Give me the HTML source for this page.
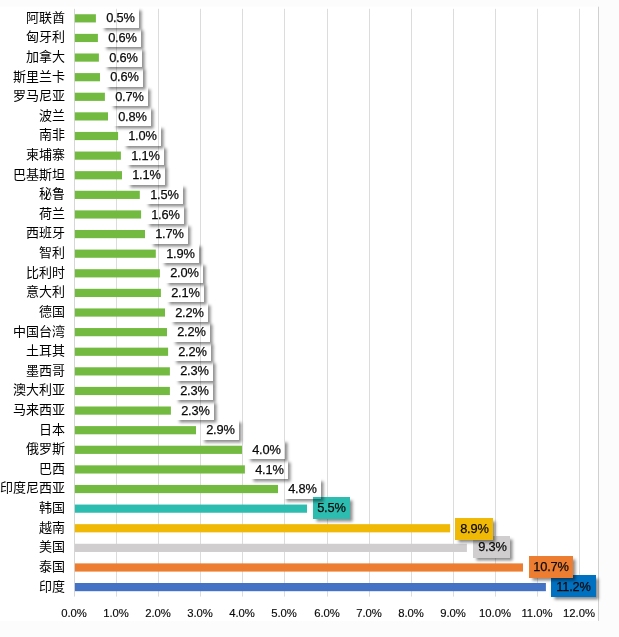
<!DOCTYPE html>
<html lang="zh"><head><meta charset="utf-8"><title>chart</title>
<style>
html,body{margin:0;padding:0;background:#FCFCFC;}
body{width:619px;height:637px;position:relative;overflow:hidden;font-family:"Liberation Sans","Noto Sans CJK SC",sans-serif;}
#c{position:absolute;left:0;top:0;width:619px;height:637px;overflow:hidden;}
svg{position:absolute;left:0;top:0;}
.cat{position:absolute;left:0;width:65px;text-align:right;font-size:13px;line-height:16px;height:16px;color:#000;white-space:nowrap;}
.lab{position:absolute;height:20.4px;line-height:21.4px;text-indent:0.4px;width:37.5px;text-align:center;font-size:13.5px;color:#0a0a0a;-webkit-text-stroke:0.25px #0a0a0a;box-shadow:2.5px 2.5px 3px rgba(0,0,0,.46);white-space:nowrap;}
.lab.w2{width:44.6px;}

.lab span{display:inline-block;transform:scaleX(.95);letter-spacing:-0.2px;}
.ax{position:absolute;top:605.5px;width:40px;text-align:center;font-size:11.3px;line-height:14px;color:#0a0a0a;-webkit-text-stroke:0.15px #0a0a0a;}
</style></head><body><div id="c">
<svg width="619" height="637" viewBox="0 0 619 637">
<rect x="0" y="6.6" width="598.9" height="614.3" fill="#fff"/>
<line x1="74.5" y1="8.8" x2="74.5" y2="596.6" stroke="#D6D6D6" stroke-width="1"/>
<line x1="116.5" y1="8.8" x2="116.5" y2="596.6" stroke="#DCDCDC" stroke-width="1"/>
<line x1="158.5" y1="8.8" x2="158.5" y2="596.6" stroke="#DCDCDC" stroke-width="1"/>
<line x1="200.5" y1="8.8" x2="200.5" y2="596.6" stroke="#DCDCDC" stroke-width="1"/>
<line x1="242.5" y1="8.8" x2="242.5" y2="596.6" stroke="#DCDCDC" stroke-width="1"/>
<line x1="284.5" y1="8.8" x2="284.5" y2="596.6" stroke="#DCDCDC" stroke-width="1"/>
<line x1="327.5" y1="8.8" x2="327.5" y2="596.6" stroke="#DCDCDC" stroke-width="1"/>
<line x1="369.5" y1="8.8" x2="369.5" y2="596.6" stroke="#DCDCDC" stroke-width="1"/>
<line x1="411.5" y1="8.8" x2="411.5" y2="596.6" stroke="#DCDCDC" stroke-width="1"/>
<line x1="453.5" y1="8.8" x2="453.5" y2="596.6" stroke="#DCDCDC" stroke-width="1"/>
<line x1="495.5" y1="8.8" x2="495.5" y2="596.6" stroke="#DCDCDC" stroke-width="1"/>
<line x1="537.5" y1="8.8" x2="537.5" y2="596.6" stroke="#DCDCDC" stroke-width="1"/>
<line x1="579.5" y1="8.8" x2="579.5" y2="596.6" stroke="#DCDCDC" stroke-width="1"/>
<line x1="598.5" y1="6.7" x2="598.5" y2="621" stroke="#D0D0D0" stroke-width="1"/>
<rect x="74.9" y="14.25" width="21.0" height="8.2" fill="#73BB40"/>
<rect x="74.9" y="33.86" width="23.0" height="8.2" fill="#73BB40"/>
<rect x="74.9" y="53.47" width="24.0" height="8.2" fill="#73BB40"/>
<rect x="74.9" y="73.09" width="25.1" height="8.2" fill="#73BB40"/>
<rect x="74.9" y="92.70" width="30.0" height="8.2" fill="#73BB40"/>
<rect x="74.9" y="112.31" width="33.1" height="8.2" fill="#73BB40"/>
<rect x="74.9" y="131.92" width="43.2" height="8.2" fill="#73BB40"/>
<rect x="74.9" y="151.53" width="46.0" height="8.2" fill="#73BB40"/>
<rect x="74.9" y="171.15" width="47.1" height="8.2" fill="#73BB40"/>
<rect x="74.9" y="190.76" width="64.9" height="8.2" fill="#73BB40"/>
<rect x="74.9" y="210.37" width="66.2" height="8.2" fill="#73BB40"/>
<rect x="74.9" y="229.98" width="70.1" height="8.2" fill="#73BB40"/>
<rect x="74.9" y="249.59" width="80.9" height="8.2" fill="#73BB40"/>
<rect x="74.9" y="269.21" width="85.0" height="8.2" fill="#73BB40"/>
<rect x="74.9" y="288.82" width="86.0" height="8.2" fill="#73BB40"/>
<rect x="74.9" y="308.43" width="90.1" height="8.2" fill="#73BB40"/>
<rect x="74.9" y="328.04" width="92.1" height="8.2" fill="#73BB40"/>
<rect x="74.9" y="347.65" width="93.2" height="8.2" fill="#73BB40"/>
<rect x="74.9" y="367.27" width="95.0" height="8.2" fill="#73BB40"/>
<rect x="74.9" y="386.88" width="95.0" height="8.2" fill="#73BB40"/>
<rect x="74.9" y="406.49" width="96.0" height="8.2" fill="#73BB40"/>
<rect x="74.9" y="426.10" width="121.1" height="8.2" fill="#73BB40"/>
<rect x="74.9" y="445.71" width="167.1" height="8.2" fill="#73BB40"/>
<rect x="74.9" y="465.33" width="170.0" height="8.2" fill="#73BB40"/>
<rect x="74.9" y="484.94" width="203.1" height="8.2" fill="#73BB40"/>
<rect x="74.9" y="504.55" width="232.1" height="8.2" fill="#2DBDB0"/>
<rect x="74.9" y="524.16" width="375.2" height="8.2" fill="#F0B905"/>
<rect x="74.9" y="543.77" width="392.0" height="8.2" fill="#D0CECE"/>
<rect x="74.9" y="563.39" width="448.1" height="8.2" fill="#ED7D31"/>
<rect x="74.9" y="583.00" width="471.0" height="8.2" fill="#4472C4"/>
</svg>
<div class="cat" style="top:9.75px">阿联酋</div>
<div class="lab" style="left:101.1px;top:7.45px;z-index:100"><span>0.5%</span></div>
<div class="cat" style="top:29.36px">匈牙利</div>
<div class="lab" style="left:103.1px;top:27.06px;z-index:99"><span>0.6%</span></div>
<div class="cat" style="top:48.97px">加拿大</div>
<div class="lab" style="left:104.1px;top:46.67px;z-index:98"><span>0.6%</span></div>
<div class="cat" style="top:68.59px">斯里兰卡</div>
<div class="lab" style="left:105.2px;top:66.29px;z-index:97"><span>0.6%</span></div>
<div class="cat" style="top:88.20px">罗马尼亚</div>
<div class="lab" style="left:110.1px;top:85.90px;z-index:96"><span>0.7%</span></div>
<div class="cat" style="top:107.81px">波兰</div>
<div class="lab" style="left:113.2px;top:105.51px;z-index:95"><span>0.8%</span></div>
<div class="cat" style="top:127.42px">南非</div>
<div class="lab" style="left:123.3px;top:125.12px;z-index:94"><span>1.0%</span></div>
<div class="cat" style="top:147.03px">柬埔寨</div>
<div class="lab" style="left:126.1px;top:144.73px;z-index:93"><span>1.1%</span></div>
<div class="cat" style="top:166.65px">巴基斯坦</div>
<div class="lab" style="left:127.2px;top:164.35px;z-index:92"><span>1.1%</span></div>
<div class="cat" style="top:186.26px">秘鲁</div>
<div class="lab" style="left:145.0px;top:183.96px;z-index:91"><span>1.5%</span></div>
<div class="cat" style="top:205.87px">荷兰</div>
<div class="lab" style="left:146.3px;top:203.57px;z-index:90"><span>1.6%</span></div>
<div class="cat" style="top:225.48px">西班牙</div>
<div class="lab" style="left:150.2px;top:223.18px;z-index:89"><span>1.7%</span></div>
<div class="cat" style="top:245.09px">智利</div>
<div class="lab" style="left:161.0px;top:242.79px;z-index:88"><span>1.9%</span></div>
<div class="cat" style="top:264.71px">比利时</div>
<div class="lab" style="left:165.1px;top:262.41px;z-index:87"><span>2.0%</span></div>
<div class="cat" style="top:284.32px">意大利</div>
<div class="lab" style="left:166.1px;top:282.02px;z-index:86"><span>2.1%</span></div>
<div class="cat" style="top:303.93px">德国</div>
<div class="lab" style="left:170.2px;top:301.63px;z-index:85"><span>2.2%</span></div>
<div class="cat" style="top:323.54px">中国台湾</div>
<div class="lab" style="left:172.2px;top:321.24px;z-index:84"><span>2.2%</span></div>
<div class="cat" style="top:343.15px">土耳其</div>
<div class="lab" style="left:173.3px;top:340.85px;z-index:83"><span>2.2%</span></div>
<div class="cat" style="top:362.77px">墨西哥</div>
<div class="lab" style="left:175.1px;top:360.47px;z-index:82"><span>2.3%</span></div>
<div class="cat" style="top:382.38px">澳大利亚</div>
<div class="lab" style="left:175.1px;top:380.08px;z-index:81"><span>2.3%</span></div>
<div class="cat" style="top:401.99px">马来西亚</div>
<div class="lab" style="left:176.1px;top:399.69px;z-index:80"><span>2.3%</span></div>
<div class="cat" style="top:421.60px">日本</div>
<div class="lab" style="left:201.2px;top:419.30px;z-index:79"><span>2.9%</span></div>
<div class="cat" style="top:441.21px">俄罗斯</div>
<div class="lab" style="left:247.2px;top:438.91px;z-index:78"><span>4.0%</span></div>
<div class="cat" style="top:460.83px">巴西</div>
<div class="lab" style="left:250.1px;top:458.53px;z-index:77"><span>4.1%</span></div>
<div class="cat" style="top:480.44px">印度尼西亚</div>
<div class="lab" style="left:283.2px;top:478.14px;z-index:76"><span>4.8%</span></div>
<div class="cat" style="top:500.05px">韩国</div>
<div class="lab col" style="left:313.1px;top:497.2px;width:36.6px;height:21.5px;line-height:22.9px;z-index:75;background:#2DBDB0"><span>5.5%</span></div>
<div class="cat" style="top:519.66px">越南</div>
<div class="lab col" style="left:455.1px;top:518.0px;width:37.9px;height:21.5px;line-height:22.9px;z-index:74;background:#F0B905"><span>8.9%</span></div>
<div class="cat" style="top:539.27px">美国</div>
<div class="lab col" style="left:473.2px;top:536.1px;width:36.8px;height:21.5px;line-height:22.9px;z-index:73;background:#D0CECE"><span>9.3%</span></div>
<div class="cat" style="top:558.89px">泰国</div>
<div class="lab w2 col" style="left:529.0px;top:556.0px;width:44.0px;height:21.5px;line-height:22.9px;z-index:72;background:#ED7D31"><span>10.7%</span></div>
<div class="cat" style="top:578.50px">印度</div>
<div class="lab w2 col" style="left:551.0px;top:575.2px;width:44.9px;height:21.7px;line-height:23.1px;z-index:71;background:#0070C0"><span>11.2%</span></div>
<div class="ax" style="left:54.00px">0.0%</div>
<div class="ax" style="left:96.00px">1.0%</div>
<div class="ax" style="left:138.00px">2.0%</div>
<div class="ax" style="left:180.00px">3.0%</div>
<div class="ax" style="left:222.00px">4.0%</div>
<div class="ax" style="left:264.00px">5.0%</div>
<div class="ax" style="left:307.00px">6.0%</div>
<div class="ax" style="left:349.00px">7.0%</div>
<div class="ax" style="left:391.00px">8.0%</div>
<div class="ax" style="left:433.00px">9.0%</div>
<div class="ax" style="left:475.00px">10.0%</div>
<div class="ax" style="left:517.00px">11.0%</div>
<div class="ax" style="left:559.00px">12.0%</div>
</div></body></html>
